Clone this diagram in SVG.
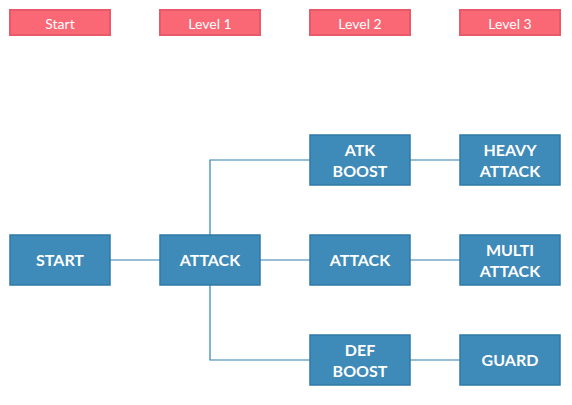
<svg xmlns="http://www.w3.org/2000/svg" width="572" height="405" viewBox="0 0 572 405">
<style>
.hdr rect{fill:#f96874;stroke:#e8596a;stroke-width:2}
.hdr text{fill:#ffffff;font-family:Lato,"Liberation Sans",sans-serif;font-size:14px;text-anchor:middle}
.node rect{fill:#3e8ab8;stroke:#2f79a7;stroke-width:1.5}
.node text{fill:#ffffff;font-family:Lato,"Liberation Sans",sans-serif;font-size:16px;font-weight:bold;text-anchor:middle}
.edges path{fill:none;stroke:#2f80b0;stroke-width:1.2}
</style>
<rect width="572" height="405" fill="#ffffff"/>
<g id="hdr-start" class="hdr"><rect x="10" y="10" width="100" height="25"/><text x="60" y="28.5">Start</text></g>
<g id="hdr-level1" class="hdr"><rect x="160" y="10" width="100" height="25"/><text x="210" y="28.5">Level 1</text></g>
<g id="hdr-level2" class="hdr"><rect x="310" y="10" width="100" height="25"/><text x="360" y="28.5">Level 2</text></g>
<g id="hdr-level3" class="hdr"><rect x="460" y="10" width="100" height="25"/><text x="510" y="28.5">Level 3</text></g>
<g class="edges">
<path d="M110,260H160"/>
<path d="M260,260H310"/>
<path d="M210,235V160H310"/>
<path d="M210,285V360H310"/>
<path d="M410,160H460"/>
<path d="M410,260H460"/>
<path d="M410,360H460"/>
</g>
<g id="start" class="node"><rect x="10" y="235" width="100" height="50"/><text x="60" y="266">START</text></g>
<g id="attack1" class="node"><rect x="160" y="235" width="100" height="50"/><text x="210" y="266">ATTACK</text></g>
<g id="atkboost" class="node"><rect x="310" y="135" width="100" height="50"/><text x="360" y="156">ATK</text><text x="360" y="177">BOOST</text></g>
<g id="attack2" class="node"><rect x="310" y="235" width="100" height="50"/><text x="360" y="266">ATTACK</text></g>
<g id="defboost" class="node"><rect x="310" y="335" width="100" height="50"/><text x="360" y="356">DEF</text><text x="360" y="377">BOOST</text></g>
<g id="heavy" class="node"><rect x="460" y="135" width="100" height="50"/><text x="510" y="156">HEAVY</text><text x="510" y="177">ATTACK</text></g>
<g id="multi" class="node"><rect x="460" y="235" width="100" height="50"/><text x="510" y="256">MULTI</text><text x="510" y="277">ATTACK</text></g>
<g id="guard" class="node"><rect x="460" y="335" width="100" height="50"/><text x="510" y="366">GUARD</text></g>
</svg>
